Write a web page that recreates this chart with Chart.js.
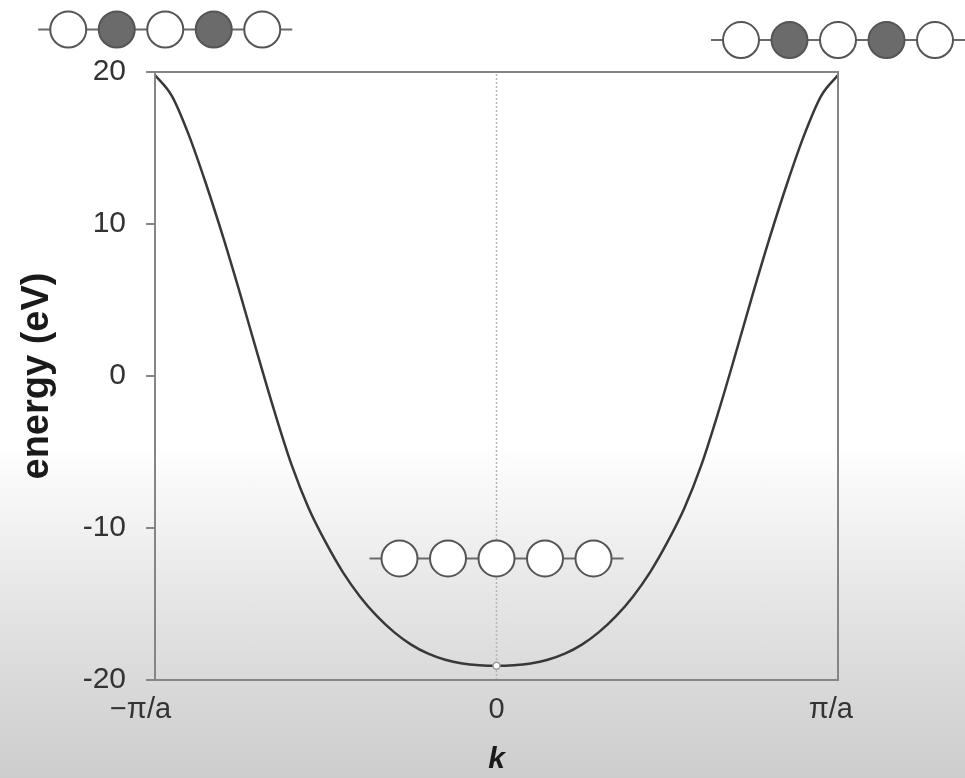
<!DOCTYPE html>
<html>
<head>
<meta charset="utf-8">
<title>Band energy vs k</title>
<script src="https://cdn.jsdelivr.net/npm/chart.js@4/dist/chart.umd.min.js"></script>
<style>
  html, body { margin: 0; padding: 0; }
  body {
    width: 965px; height: 778px; overflow: hidden;
    background: linear-gradient(to bottom, #ffffff 0%, #ffffff 57%, #f5f5f5 65%, #e8e8e8 75%, #dadada 87%, #cdcdcd 100%);
  }
  canvas { display: block; }
</style>
</head>
<body>
<canvas id="band" width="965" height="778"></canvas>
<script>
// wave vector k in units of pi/a
const kValues = [
  -1.00, -0.95, -0.90, -0.85, -0.80, -0.75, -0.70, -0.65, -0.60, -0.55,
  -0.50, -0.45, -0.40, -0.35, -0.30, -0.25, -0.20, -0.15, -0.10, -0.05,
   0.00,
   0.05,  0.10,  0.15,  0.20,  0.25,  0.30,  0.35,  0.40,  0.45,  0.50,
   0.55,  0.60,  0.65,  0.70,  0.75,  0.80,  0.85,  0.90,  0.95,  1.00
];
// band energy (eV)
const energies = [
  19.8, 18.4, 15.8, 12.6, 9.1, 5.35, 1.45, -2.35, -5.85, -8.7,
  -10.95, -12.9, -14.5, -15.8, -16.85, -17.67, -18.27, -18.67, -18.91, -19.03,
  -19.07,
  -19.03, -18.91, -18.67, -18.27, -17.67, -16.85, -15.8, -14.5, -12.9, -10.95,
  -8.7, -5.85, -2.35, 1.45, 5.35, 9.1, 12.6, 15.8, 18.4, 19.8
];
const kTickValues = [-1, 0, 1];
// zone-edge labels carry a trailing space so they sit just left of their tick
const kTickLabels = ['\u2212\u03c0/a\u2003', '0', '\u03c0/a\u2002'];
const energyTickValues = [-20, -10, 0, 10, 20];

// atom-chain sketches: phase of each orbital (1 = shaded, 0 = open)
const chainPhases = {
  zoneEdgeLeft:  [0, 1, 0, 1, 0],
  zoneEdgeRight: [0, 1, 0, 1, 0],
  zoneCentre:    [0, 0, 0, 0, 0]
};

const points = kValues.map((k, i) => ({ x: k, y: energies[i] }));
const centreIndex = kValues.indexOf(0);

// where each chain sketch sits, in (k, E) space
const chainPlacement = [
  { phases: chainPhases.zoneEdgeLeft,  k: -0.97, E: 22.8 },
  { phases: chainPhases.zoneEdgeRight, k: 1.00,  E: 22.1 },
  { phases: chainPhases.zoneCentre,    k: 0.00,  E: -12.0 }
];

const chainPlugin = {
  id: 'chains',
  afterDatasetsDraw(chart) {
    const { ctx, scales: { x, y } } = chart;
    const r = 18, gap = 48.5, tail = 30;
    ctx.save();
    chainPlacement.forEach(c => {
      const cx = x.getPixelForValue(c.k);
      const cy = y.getPixelForValue(c.E);
      const n = c.phases.length;
      const x0 = cx - gap * (n - 1) / 2;
      ctx.strokeStyle = '#6a6a6a';
      ctx.lineWidth = 2;
      ctx.beginPath();
      ctx.moveTo(x0 - tail, cy);
      ctx.lineTo(x0 + gap * (n - 1) + tail, cy);
      ctx.stroke();
      c.phases.forEach((p, i) => {
        ctx.beginPath();
        ctx.arc(x0 + gap * i, cy, r, 0, Math.PI * 2);
        ctx.fillStyle = p ? '#6b6b6b' : '#ffffff';
        ctx.fill();
        ctx.strokeStyle = '#555555';
        ctx.lineWidth = 2;
        ctx.stroke();
      });
    });
    ctx.restore();
  }
};

const framePlugin = {
  id: 'frame',
  afterDraw(chart) {
    const { ctx, chartArea: a } = chart;
    ctx.save();
    ctx.strokeStyle = '#858585';
    ctx.lineWidth = 2;
    ctx.strokeRect(a.left, a.top, a.right - a.left, a.bottom - a.top);
    ctx.restore();
  }
};

const labelFont = 'Liberation Sans, Arial, sans-serif';

new Chart(document.getElementById('band'), {
  type: 'line',
  data: {
    datasets: [
      {
        label: 'k = 0',
        data: [{ x: 0, y: -20 }, { x: 0, y: 20 }],
        borderColor: '#b5b5b5',
        borderWidth: 1.5,
        borderDash: [2, 2],
        pointRadius: 0,
        order: 3
      },
      {
        label: 'E(k)',
        data: points,
        borderColor: '#383838',
        borderWidth: 2.5,
        pointRadius: 0,
        cubicInterpolationMode: 'monotone',
        fill: false,
        order: 2
      },
      {
        label: 'E(0)',
        data: [points[centreIndex]],
        showLine: false,
        pointRadius: 3.5,
        pointBackgroundColor: '#ffffff',
        pointBorderColor: '#9a9a9a',
        pointBorderWidth: 1.5,
        order: 1
      }
    ]
  },
  options: {
    responsive: false,
    devicePixelRatio: 1,
    animation: false,
    clip: false,
    layout: { padding: { top: 72, right: 127, bottom: 0, left: 0 } },
    plugins: { legend: { display: false }, tooltip: { enabled: false } },
    scales: {
      x: {
        type: 'linear',
        min: -1, max: 1,
        afterFit(s) { s.height = 98; },
        afterBuildTicks(s) { s.ticks = kTickValues.map(v => ({ value: v })); },
        grid: { display: false },
        border: { display: false },
        ticks: {
          padding: 5,
          color: '#333333',
          font: { family: labelFont, size: 29 },
          callback: v => kTickLabels[kTickValues.indexOf(v)] ?? ''
        },
        title: {
          display: true,
          text: 'k',
          color: '#1a1a1a',
          font: { family: labelFont, size: 30, weight: 'bold', style: 'italic' },
          padding: { top: 9, bottom: 0 },
          align: 'center'
        }
      },
      y: {
        type: 'linear',
        min: -20, max: 20,
        afterFit(s) { s.width = 155; },
        afterBuildTicks(s) { s.ticks = energyTickValues.map(v => ({ value: v })); },
        grid: {
          drawOnChartArea: false,
          drawTicks: true,
          tickLength: 9,
          color: '#858585',
          lineWidth: 2
        },
        border: { display: false },
        ticks: {
          padding: 20,
          color: '#333333',
          font: { family: labelFont, size: 30 }
        },
        title: {
          display: true,
          text: 'energy (eV)',
          color: '#1a1a1a',
          font: { family: labelFont, size: 38, weight: 'bold' },
          padding: { top: 15, bottom: 0 }
        }
      }
    }
  },
  plugins: [chainPlugin, framePlugin]
});
</script>
</body>
</html>
